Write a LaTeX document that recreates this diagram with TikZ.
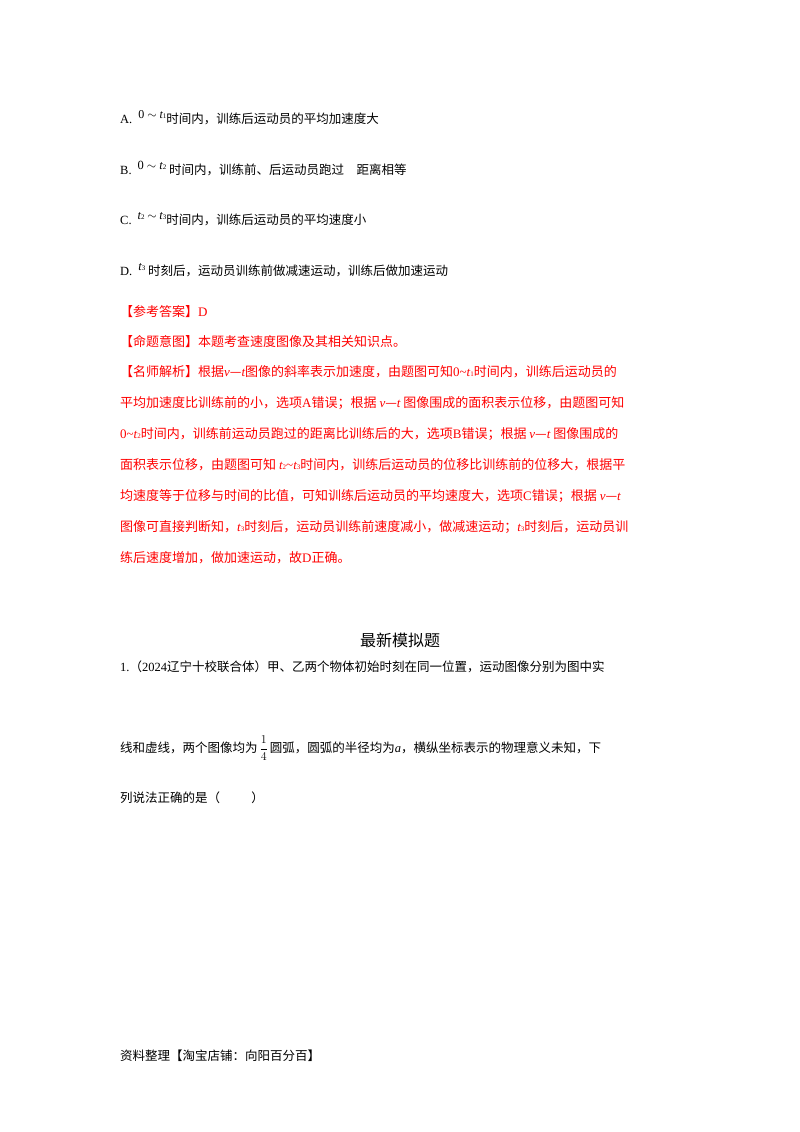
\documentclass[tikz,border=0pt]{standalone}
\usepackage{fontspec}
\setmainfont{Liberation Serif}
\newfontfamily\cjk{Noto Sans CJK SC}
\newfontfamily\lserif{Liberation Serif}
\newcommand\lr[1]{{\lserif #1}}
\newcommand\iv[1]{{\lserif\itshape #1}}
\begin{document}
\begin{tikzpicture}[x=1pt,y=-1pt,
 txt/.style={anchor=base west,inner sep=0,font=\fontsize{12.5}{14}\selectfont\cjk},
 red/.style={txt,text=red,font=\fontsize{13}{14}\selectfont\cjk}]
\useasboundingbox (0,0) rectangle (800,1132);
\node[txt] (a) at (120,123) {\lr{A.\ } \raisebox{5pt}{\lr{\large 0 $\sim$ }\iv{\large t}\lr{\scriptsize 1}}时间内，训练后运动员的平均加速度大};
\node[txt] (b) at (120,174) {\lr{B.\ } \raisebox{5pt}{\lr{0 $\sim$ }\iv{t}\lr{\scriptsize 2}} 时间内，训练前、后运动员跑过\hspace{1em}距离相等};
\node[txt] (c) at (120,224) {\lr{C.\ } \raisebox{5pt}{\iv{t}\lr{\scriptsize 2} \lr{$\sim$} \iv{t}\lr{\scriptsize 3}}时间内，训练后运动员的平均速度小};
\node[txt] (d) at (120,275) {\lr{D.\ } \raisebox{5pt}{\iv{t}\lr{\scriptsize 3}} 时刻后，运动员训练前做减速运动，训练后做加速运动};
\node[red] (r1) at (120,316) {【参考答案】\lr{D}};
\node[red] (r2) at (120,346) {【命题意图】本题考查速度图像及其相关知识点。};
\node[red] (r3) at (120,376) {【名师解析】根据\iv{v}—\iv{t}图像的斜率表示加速度，由题图可知\lr{0}\lr{\textasciitilde}\iv{t}\lr{\scriptsize 1}时间内，训练后运动员的};
\node[red] (r4) at (120,407) {平均加速度比训练前的小，选项\lr{A}错误；根据 \iv{v}—\iv{t} 图像围成的面积表示位移，由题图可知};
\node[red] (r5) at (120,438) {\lr{0}\lr{\textasciitilde}\iv{t}\lr{\scriptsize 2}时间内，训练前运动员跑过的距离比训练后的大，选项\lr{B}错误；根据 \iv{v}—\iv{t} 图像围成的};
\node[red] (r6) at (120,469) {面积表示位移，由题图可知 \iv{t}\lr{\scriptsize 2}\lr{\textasciitilde}\iv{t}\lr{\scriptsize 3}时间内，训练后运动员的位移比训练前的位移大，根据平};
\node[red] (r7) at (120,500) {均速度等于位移与时间的比值，可知训练后运动员的平均速度大，选项\lr{C}错误；根据 \iv{v}—\iv{t}};
\node[red] (r8) at (120,531) {图像可直接判断知，\iv{t}\lr{\scriptsize 3}时刻后，运动员训练前速度减小，做减速运动；\iv{t}\lr{\scriptsize 3}时刻后，运动员训};
\node[red] (r9) at (120,562) {练后速度增加，做加速运动，故\lr{D}正确。};
\node[txt,anchor=base,font=\fontsize{16}{18}\selectfont\cjk] (t) at (400,646) {最新模拟题};
\node[txt] (q1) at (120,671) {\lr{1.}（\lr{2024}辽宁十校联合体）甲、乙两个物体初始时刻在同一位置，运动图像分别为图中实};
\node[txt] (q2) at (120,752) {线和虚线，两个图像均为$\,\displaystyle\frac{\lr{1}}{\lr{4}}\,$圆弧，圆弧的半径均为\iv{a}，横纵坐标表示的物理意义未知，下};
\node[txt] (q3) at (120,802) {列说法正确的是（\hspace{2.5em}）};
\node[txt] (f) at (120,1060) {资料整理【淘宝店铺：向阳百分百】};
\end{tikzpicture}
\end{document}
